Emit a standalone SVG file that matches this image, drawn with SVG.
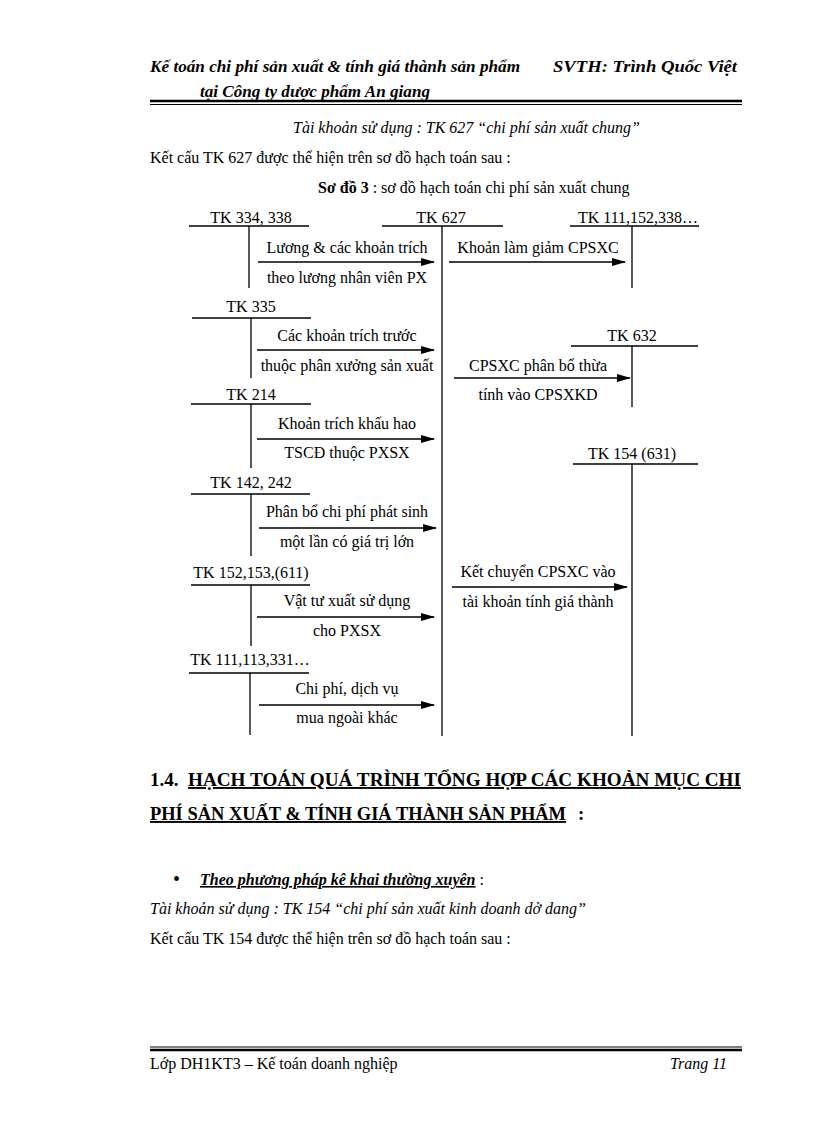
<svg xmlns="http://www.w3.org/2000/svg" width="816" height="1123" viewBox="0 0 816 1123">
<style>
text{font-family:"Liberation Serif","Times New Roman",serif;font-size:16px;fill:#000}
.c{text-anchor:middle}
.i{font-style:italic}
.b{font-weight:bold}
.hd{font-style:italic;font-weight:bold;font-size:16px}
.h1{font-weight:bold;font-size:19px}
.ln{stroke:#000;stroke-width:1.6;fill:none}
.vl{stroke:#000;stroke-width:1.3;fill:none}
.ar{stroke:#000;stroke-width:1.3;fill:none;marker-end:url(#ah)}
</style>
<defs>
<marker id="ah" markerWidth="14" markerHeight="8" refX="13" refY="4" orient="auto" markerUnits="userSpaceOnUse">
<path d="M0,0 L14,4 L0,8 Z" fill="#000"/>
</marker>
</defs>
<rect width="816" height="1123" fill="#fff"/>
<g id="header">
<text class="hd" x="150" y="72" textLength="370" lengthAdjust="spacingAndGlyphs">Kế toán chi phí sản xuất &amp; tính giá thành sản phẩm</text>
<text class="hd" x="553" y="72" textLength="184" lengthAdjust="spacingAndGlyphs">SVTH: Trình Quốc Việt</text>
<text class="hd" x="200" y="97" textLength="230" lengthAdjust="spacingAndGlyphs">tại Công ty dược phẩm An giang</text>
<line x1="150" y1="101" x2="742" y2="101" stroke="#000" stroke-width="2.6"/>
<line x1="150" y1="104.5" x2="742" y2="104.5" stroke="#000" stroke-width="1"/>
</g>
<g id="intro">
<text class="i" x="293" y="133">Tài khoản sử dụng : TK 627 “chi phí sản xuất chung”</text>
<text x="150" y="163">Kết cấu TK 627 được thể hiện trên sơ đồ hạch toán sau :</text>
<text x="318" y="193"><tspan class="b">Sơ đồ 3</tspan> : sơ đồ hạch toán chi phí sản xuất chung</text>
</g>
<g id="tk334">
<text class="c" x="251" y="223">TK 334, 338</text>
<line class="ln" x1="189" y1="226" x2="309" y2="226"/>
<line class="vl" x1="249" y1="226" x2="249" y2="288"/>
</g>
<g id="tk627">
<text class="c" x="441" y="223">TK 627</text>
<line class="ln" x1="382" y1="226" x2="503" y2="226"/>
<line class="vl" x1="442" y1="226" x2="442" y2="736"/>
</g>
<g id="tk111_152">
<text class="c" x="638" y="223">TK 111,152,338…</text>
<line class="ln" x1="570" y1="226" x2="699" y2="226"/>
<line class="vl" x1="632" y1="226" x2="632" y2="288"/>
</g>
<g id="tk335">
<text class="c" x="251" y="312">TK 335</text>
<line class="ln" x1="192" y1="318" x2="311" y2="318"/>
<line class="vl" x1="251" y1="318" x2="251" y2="378"/>
</g>
<g id="tk632">
<text class="c" x="632" y="341">TK 632</text>
<line class="ln" x1="571" y1="346" x2="698" y2="346"/>
<line class="vl" x1="632" y1="346" x2="632" y2="407"/>
</g>
<g id="tk214">
<text class="c" x="251" y="400">TK 214</text>
<line class="ln" x1="191" y1="404" x2="311" y2="404"/>
<line class="vl" x1="251" y1="404" x2="251" y2="468"/>
</g>
<g id="tk154">
<text class="c" x="632" y="459">TK 154 (631)</text>
<line class="ln" x1="573" y1="464" x2="698" y2="464"/>
<line class="vl" x1="632" y1="464" x2="632" y2="736"/>
</g>
<g id="tk142">
<text class="c" x="251" y="488">TK 142, 242</text>
<line class="ln" x1="191" y1="494" x2="310" y2="494"/>
<line class="vl" x1="251" y1="494" x2="251" y2="556"/>
</g>
<g id="tk152">
<text class="c" x="251" y="578">TK 152,153,(611)</text>
<line class="ln" x1="191" y1="585" x2="310" y2="585"/>
<line class="vl" x1="251" y1="585" x2="251" y2="646"/>
</g>
<g id="tk111_113">
<text class="c" x="250" y="665">TK 111,113,331…</text>
<line class="ln" x1="189" y1="673" x2="309" y2="673"/>
<line class="vl" x1="250" y1="673" x2="250" y2="735"/>
</g>
<g id="connectors">
<line class="ar" x1="258" y1="262" x2="434" y2="262"/>
<line class="ar" x1="449" y1="262" x2="625" y2="262"/>
<line class="ar" x1="257" y1="350" x2="434" y2="350"/>
<line class="ar" x1="454" y1="378" x2="630" y2="378"/>
<line class="ar" x1="257" y1="439" x2="434" y2="439"/>
<line class="ar" x1="259" y1="528" x2="436" y2="528"/>
<line class="ar" x1="452" y1="587" x2="627" y2="587"/>
<line class="ar" x1="257" y1="617" x2="434" y2="617"/>
<line class="ar" x1="259" y1="705" x2="434" y2="705"/>
<text class="c" x="347" y="253">Lương &amp; các khoản trích</text>
<text class="c" x="347" y="283">theo lương nhân viên PX</text>
<text class="c" x="538" y="253">Khoản làm giảm CPSXC</text>
<text class="c" x="347" y="341">Các khoản trích trước</text>
<text class="c" x="347" y="371">thuộc phân xưởng sản xuất</text>
<text class="c" x="538" y="371">CPSXC phân bổ thừa</text>
<text class="c" x="538" y="400">tính vào CPSXKD</text>
<text class="c" x="347" y="429">Khoản trích khấu hao</text>
<text class="c" x="347" y="458">TSCĐ thuộc PXSX</text>
<text class="c" x="347" y="517">Phân bổ chi phí phát sinh</text>
<text class="c" x="347" y="547">một lần có giá trị lớn</text>
<text class="c" x="538" y="577">Kết chuyển CPSXC vào</text>
<text class="c" x="538" y="607">tài khoản tính giá thành</text>
<text class="c" x="347" y="606">Vật tư xuất sử dụng</text>
<text class="c" x="347" y="636">cho PXSX</text>
<text class="c" x="347" y="694">Chi phí, dịch vụ</text>
<text class="c" x="347" y="723">mua ngoài khác</text>
</g>
<g id="section">
<text class="h1" x="150" y="786">1.4.</text>
<text class="h1" x="188" y="786" textLength="553" lengthAdjust="spacingAndGlyphs" text-decoration="underline">HẠCH TOÁN QUÁ TRÌNH TỔNG HỢP CÁC KHOẢN MỤC CHI</text>
<text class="h1" x="150" y="820" textLength="416" lengthAdjust="spacingAndGlyphs" text-decoration="underline">PHÍ SẢN XUẤT &amp; TÍNH GIÁ THÀNH SẢN PHẨM</text>
<text class="h1" x="578" y="820">:</text>
<text x="173" y="886" style="font-size:20px">•</text>
<text x="200" y="885"><tspan class="b i" text-decoration="underline">Theo phương pháp kê khai thường xuyên</tspan> :</text>
<text class="i" x="150" y="914">Tài khoản sử dụng :  TK 154 “chi phí sản xuất kinh doanh dở dang”</text>
<text x="150" y="944">Kết cấu TK 154 được thể hiện trên sơ đồ hạch toán sau :</text>
</g>
<g id="footer">
<line x1="150" y1="1047" x2="742" y2="1047" stroke="#000" stroke-width="1"/>
<line x1="150" y1="1050" x2="742" y2="1050" stroke="#000" stroke-width="2.6"/>
<text x="150" y="1069">Lớp DH1KT3 – Kế toán doanh nghiệp</text>
<text class="i" x="727" y="1069" text-anchor="end">Trang 11</text>
</g>
</svg>
